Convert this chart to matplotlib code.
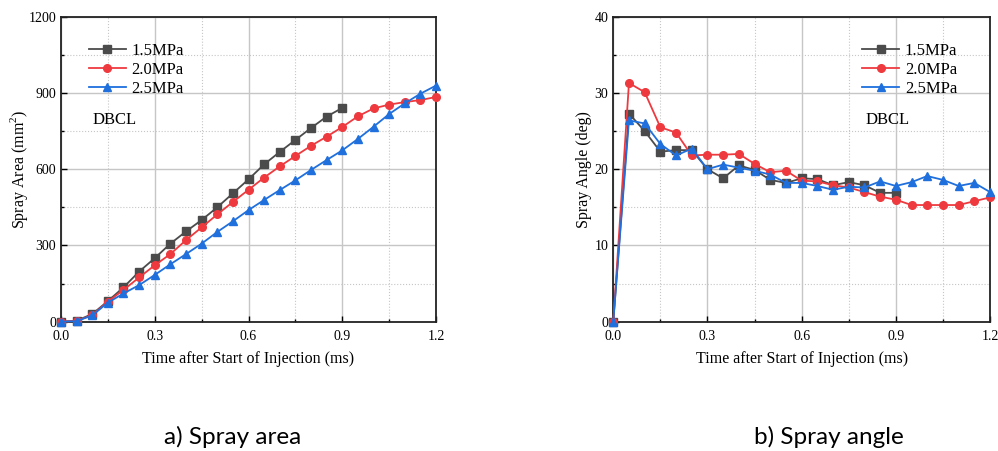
import matplotlib
matplotlib.use("Agg")
import matplotlib.pyplot as plt
import numpy as np
from matplotlib.ticker import MultipleLocator

plt.rcParams['font.family'] = ['Liberation Serif', 'DejaVu Serif']
plt.rcParams['mathtext.fontset'] = 'custom'
plt.rcParams['mathtext.rm'] = 'Liberation Serif'

# ===== Data =====
t_long = np.round(np.arange(0, 1.2001, 0.05), 2)

labels = ['1.5MPa', '2.0MPa', '2.5MPa']
colors = ['#4b4b4b', '#ee3a3f', '#1f6fdd']
markers = ['s', 'o', '^']

area_15 = [0, 4, 30, 81, 135, 197, 250, 307, 355, 400, 450, 505, 560, 619,
           668, 715, 762, 807, 841]
area_20 = [0, 3, 26, 79, 125, 174, 222, 266, 321, 371, 422, 471, 519, 567,
           611, 652, 692, 728, 766, 808, 839, 854, 864, 872, 884]
area_25 = [0, 2, 25, 75, 111, 144, 184, 226, 266, 307, 353, 395, 439, 479,
           518, 556, 597, 636, 674, 719, 767, 817, 859, 897, 929]

angle_15 = [0, 27.3, 25.0, 22.3, 22.5, 22.5, 20.0, 18.8, 20.5, 19.9, 18.6,
            18.2, 18.8, 18.7, 17.9, 18.3, 17.9, 16.9, 16.9]
angle_20 = [0, 31.3, 30.1, 25.5, 24.8, 21.8, 21.9, 21.9, 22.0, 20.7, 19.6,
            19.8, 18.5, 18.4, 17.9, 17.6, 17.0, 16.4, 16.0, 15.3, 15.3, 15.3,
            15.3, 15.8, 16.3]
angle_25 = [0, 26.4, 26.0, 23.3, 21.8, 22.7, 20.0, 20.6, 20.2, 19.8, 19.3,
            18.2, 18.2, 17.8, 17.3, 17.7, 17.6, 18.4, 17.8, 18.3, 19.1, 18.6,
            17.8, 18.2, 17.0]

area_series = [area_15, area_20, area_25]
angle_series = [angle_15, angle_20, angle_25]


def style_axes(ax, ymax, ystep):
    ax.set_xlim(0, 1.2)
    ax.set_ylim(0, ymax)
    ax.xaxis.set_major_locator(MultipleLocator(0.3))
    ax.xaxis.set_minor_locator(MultipleLocator(0.15))
    ax.yaxis.set_major_locator(MultipleLocator(ystep))
    ax.yaxis.set_minor_locator(MultipleLocator(ystep / 2))
    ax.xaxis.set_major_formatter(plt.FuncFormatter(lambda v, p: f"{v:.1f}"))
    ax.grid(True, which='major', color='#c6c6c6', lw=1.0, ls='-')
    ax.grid(True, which='minor', color='#c6c6c6', lw=0.8, ls=':')
    ax.set_axisbelow(True)
    ax.tick_params(which='both', direction='in', top=False, right=False,
                   labelsize=10, width=1.0)
    ax.tick_params(axis='x', which='major', pad=6)
    ax.tick_params(which='major', length=4)
    ax.tick_params(which='minor', length=2.5)
    for s in ax.spines.values():
        s.set_linewidth(1.3)
        s.set_color('#222222')
    ax.set_xlabel('Time after Start of Injection (ms)', fontsize=11.5, labelpad=6)


fig = plt.figure(figsize=(9.98, 4.51), dpi=100)
ax1 = fig.add_axes([0.0611, 0.2867, 0.3758, 0.6763])
ax2 = fig.add_axes([0.6145, 0.2867, 0.3775, 0.6763])

for vals, lab, c, m in zip(area_series, labels, colors, markers):
    ax1.plot(t_long[:len(vals)], vals, color=c, marker=m, markersize=5.5,
             lw=1.3, label=lab, clip_on=False, zorder=3)
for vals, lab, c, m in zip(angle_series, labels, colors, markers):
    ax2.plot(t_long[:len(vals)], vals, color=c, marker=m, markersize=5.5,
             lw=1.3, label=lab, clip_on=False, zorder=3)

style_axes(ax1, 1200, 300)
style_axes(ax2, 40, 10)
ax1.set_ylabel('Spray Area (mm$^2$)', fontsize=11.5, labelpad=-1)
ax2.set_ylabel('Spray Angle (deg)', fontsize=11.5, labelpad=2)

for ax, x0 in [(ax1, 0.075), (ax2, 0.661)]:
    ax.legend(loc='upper left', bbox_to_anchor=(x0, 0.915), frameon=False,
              fontsize=12, borderpad=0, borderaxespad=0, handlelength=2.2,
              handletextpad=0.35, labelspacing=0.2)
    ax.text(x0 + 0.008, 0.66, 'DBCL', transform=ax.transAxes, fontsize=12,
            va='center', ha='left')

fig.text(0.233, 0.031, 'a) Spray area', family=['Lato', 'DejaVu Sans'],
         fontsize=17.5, ha='center', va='center')
fig.text(0.831, 0.031, 'b) Spray angle', family=['Lato', 'DejaVu Sans'],
         fontsize=17.5, ha='center', va='center')

fig.savefig('out.png', dpi=100)
